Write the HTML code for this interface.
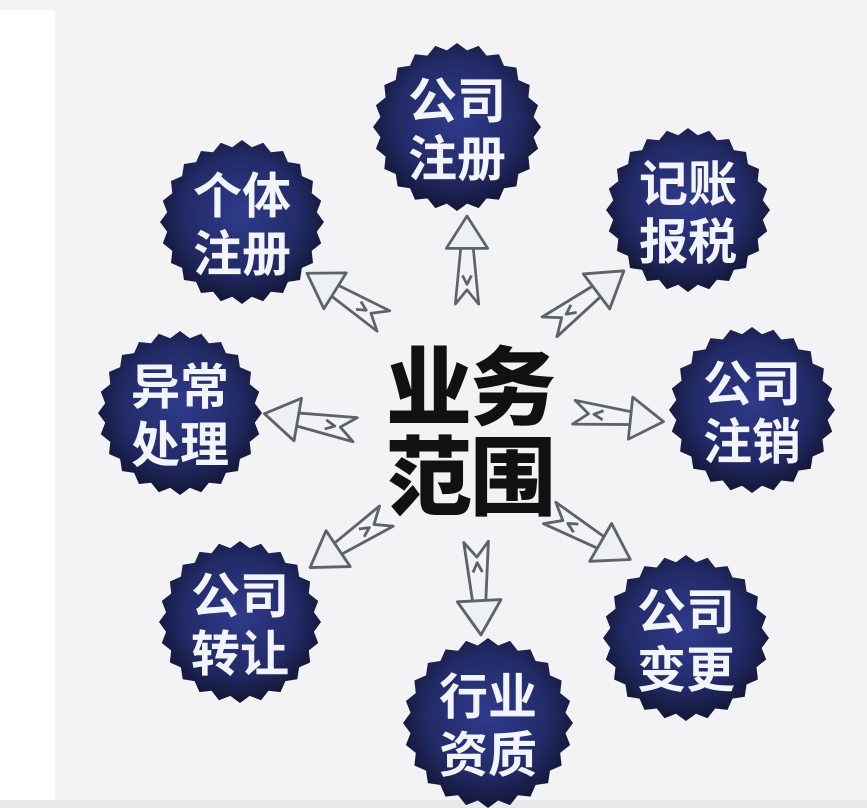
<!DOCTYPE html>
<html><head><meta charset="utf-8"><style>
html,body{margin:0;padding:0;}
body{width:867px;height:808px;background:#f3f3f5;position:relative;overflow:hidden;font-family:"Liberation Sans","Noto Sans CJK SC",sans-serif;}
</style></head><body>
<svg width="867" height="808" viewBox="0 0 867 808" style="position:absolute;left:0;top:0">
<defs>
<radialGradient id="g" cx="50%" cy="45%" r="55%">
<stop offset="0" stop-color="#2f3b8c"/>
<stop offset="0.65" stop-color="#222a66"/>
<stop offset="1" stop-color="#121634"/>
</radialGradient>
<g id="arrow" fill="none" stroke="#5c636a" stroke-width="3" stroke-linejoin="round">
<path d="M100,0 L64,-23 L64,23 Z" fill="#eef0f2"/>
<path d="M64,-7 L2,-13 L18,0 L2,13 L64,7"/>
<path d="M34,-5 L24,0 L34,5"/>
</g>
</defs>
<rect x="0" y="10" width="55" height="790" fill="#ffffff"/>
<rect x="0" y="800" width="867" height="8" fill="#e8e8ea"/>
<g id="badges"></g>
<g transform="translate(467,306) rotate(-90) scale(0.9)"><use href="#arrow"/></g>
<g transform="translate(385,322) rotate(-148) scale(0.92)"><use href="#arrow"/></g>
<g transform="translate(548,328) rotate(-37) scale(0.95)"><use href="#arrow"/></g>
<g transform="translate(357,430) rotate(-170) scale(0.94)"><use href="#arrow"/></g>
<g transform="translate(572,412) rotate(6) scale(0.92)"><use href="#arrow"/></g>
<g transform="translate(388,515) rotate(146) scale(0.94)"><use href="#arrow"/></g>
<g transform="translate(476,540) rotate(87) scale(0.95)"><use href="#arrow"/></g>
<g transform="translate(548,512) rotate(30) scale(0.95)"><use href="#arrow"/></g>
<g font-family="Liberation Sans,Noto Sans CJK SC,sans-serif" font-weight="900" fill="#111" font-size="86" text-anchor="middle">
<text x="470" y="418" letter-spacing="-2">业务</text>
<text x="470" y="508" letter-spacing="-2">范围</text>
</g>
</svg>
<script>
(function(){
var data=[[457,127,84,"公司","注册"],[242,222,82,"个体","注册"],[688,210,82,"记账","报税"],[180,413,82,"异常","处理"],[752,410,83,"公司","注销"],[240,622,81,"公司","转让"],[686,638,83,"公司","变更"],[488,723,85,"行业","资质"]];
var g=document.getElementById('badges');var html="";
data.forEach(function(d){var cx=d[0],cy=d[1],r=d[2],n=24,pts=[];
for(var i=0;i<n*2;i++){var a=Math.PI*i/n;var rr=(i%2==0)?r:r*0.92;pts.push((cx+rr*Math.cos(a)).toFixed(1)+","+(cy+rr*Math.sin(a)).toFixed(1));}
html+='<polygon points="'+pts.join(" ")+'" fill="url(#g)"/>';
html+='<text x="'+cx+'" y="'+(cy-9)+'" font-size="49" font-weight="bold" fill="#f2f4ff" text-anchor="middle" font-family="Liberation Sans,Noto Sans CJK SC,sans-serif">'+d[3]+'</text>';
html+='<text x="'+cx+'" y="'+(cy+49)+'" font-size="49" font-weight="bold" fill="#f2f4ff" text-anchor="middle" font-family="Liberation Sans,Noto Sans CJK SC,sans-serif">'+d[4]+'</text>';
});
g.innerHTML=html;
})();
</script>
</body></html>
